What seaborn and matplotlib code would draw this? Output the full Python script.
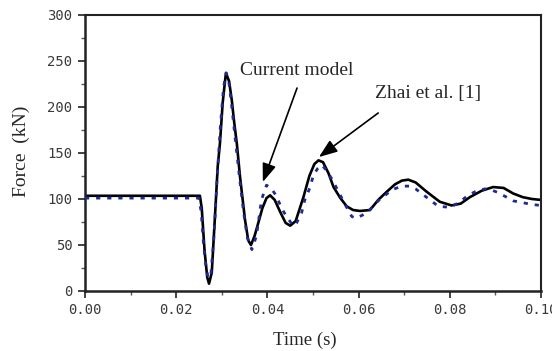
import numpy as np
import pandas as pd
import matplotlib
matplotlib.use("Agg")
import matplotlib.pyplot as plt
import seaborn as sns
from matplotlib.ticker import MultipleLocator

# Zhai et al. [1] (solid black)
zhai_t = [0.000, 0.0252, 0.0256, 0.0262, 0.0268, 0.0272, 0.0278, 0.0285, 0.0291, 0.0296,
          0.0302, 0.0309, 0.0316, 0.0322, 0.0327, 0.0333, 0.0340, 0.0351, 0.0358, 0.0364,
          0.0372, 0.0380, 0.0389, 0.0398, 0.0406, 0.0416, 0.0428, 0.0440, 0.0450, 0.0462,
          0.0479, 0.0492, 0.0503, 0.0512, 0.0522, 0.0534, 0.0545, 0.0560, 0.0574, 0.0588,
          0.0603, 0.0625, 0.0643, 0.0662, 0.0680, 0.0695, 0.0709, 0.0725, 0.0749, 0.0778,
          0.0804, 0.0824, 0.0844, 0.0870, 0.0895, 0.0918, 0.0939, 0.0960, 0.0980, 0.1000]
zhai_f = [103.5, 103.5, 90, 45, 15, 8, 20, 81, 135, 161,
          205, 237, 228, 207, 184, 160, 124, 77, 55, 50,
          60, 74, 90, 101, 104, 99, 86, 74, 71, 76,
          102, 125, 138, 142, 140, 128, 113, 101, 92, 88,
          87, 88, 99, 108, 116, 120, 121, 118, 108, 97,
          93, 95, 102, 109, 113, 112, 106, 102, 100, 99]

# Current model (dashed blue)
model_t = [0.000, 0.0250, 0.0255, 0.0260, 0.0265, 0.0270, 0.0276, 0.0283, 0.0290, 0.0297,
           0.0304, 0.0310, 0.0316, 0.0322, 0.0328, 0.0334, 0.0340, 0.0348, 0.0356, 0.0366,
           0.0376, 0.0387, 0.0398, 0.0408, 0.0420, 0.0431, 0.0442, 0.0452, 0.0461, 0.0475,
           0.0482, 0.0493, 0.0501, 0.0510, 0.0519, 0.0530, 0.0541, 0.0556, 0.0567, 0.0585,
           0.0595, 0.0618, 0.0643, 0.0673, 0.0695, 0.0711, 0.0725, 0.0746, 0.0775, 0.0800,
           0.0820, 0.0840, 0.0860, 0.0877, 0.0890, 0.0906, 0.0939, 0.0960, 0.0980, 0.1000]
model_f = [101, 101, 85, 50, 28, 14, 18, 60, 125, 180,
           222, 237, 225, 200, 172, 145, 118, 85, 58, 45,
           60, 99, 115, 112, 103, 90, 81, 74, 71, 85,
           99, 112, 126, 133, 137, 131, 122, 108, 97, 81,
           79, 85, 98, 110, 114, 114, 111, 103, 92, 91,
           96, 104, 109, 111, 110, 107, 98, 96, 94, 93]

x_ticks = [0.00, 0.02, 0.04, 0.06, 0.08, 0.10]
x_tick_labels = ["0.00", "0.02", "0.04", "0.06", "0.08", "0.10"]
y_ticks = [0, 50, 100, 150, 200, 250, 300]

sns.set_style("ticks")
plt.rcParams["font.family"] = ["Liberation Serif", "DejaVu Serif"]

fig = plt.figure(figsize=(5.52, 3.51), dpi=100)
ax = fig.add_axes([85 / 552, 60 / 351, 456 / 552, 276 / 351])

df_zhai = pd.DataFrame({"t": zhai_t, "F": zhai_f})
df_model = pd.DataFrame({"t": model_t, "F": model_f})

sns.lineplot(data=df_zhai, x="t", y="F", ax=ax, color="black", lw=1.9,
             estimator=None, sort=False, zorder=2)
sns.lineplot(data=df_model, x="t", y="F", ax=ax, color="#1f2a94", lw=2.0,
             estimator=None, sort=False, zorder=3, linestyle=(0, (1.5, 2.5)))

ax.set_xlim(0, 0.10)
ax.set_ylim(0, 300)
ax.set_xticks(x_ticks)
ax.set_xticklabels(x_tick_labels)
ax.set_yticks(y_ticks)
ax.xaxis.set_minor_locator(MultipleLocator(0.01))
ax.yaxis.set_minor_locator(MultipleLocator(25))

for lab in ax.get_xticklabels() + ax.get_yticklabels():
    lab.set_family(["DejaVu Sans Mono"])
    lab.set_fontsize(10)
    lab.set_color("#3a3a3a")

ax.tick_params(which="major", direction="out", length=5, width=1.3, color="#333333", pad=4)
ax.tick_params(which="minor", direction="out", length=3, width=1.0, color="#555555")
for side in ["left", "bottom", "top", "right"]:
    ax.spines[side].set_visible(True)
    ax.spines[side].set_color("#222222")
ax.spines["left"].set_linewidth(1.8)
ax.spines["bottom"].set_linewidth(1.8)
ax.spines["top"].set_linewidth(1.5)
ax.spines["right"].set_linewidth(1.5)

ax.set_xlabel("Time (s)", fontsize=13.5)
ax.set_ylabel("Force  (kN)", fontsize=14)
ax.xaxis.set_label_coords((305 - 85) / 456, (291 - 332) / 276)
ax.yaxis.set_label_coords((30 - 85) / 456, (291 - 151) / 276)

arrow = dict(arrowstyle="-|>,head_length=0.8,head_width=0.3", color="black",
             lw=1.2, shrinkA=0, shrinkB=0, mutation_scale=14)
ax.annotate("", xy=(0.0390, 118.5), xytext=(0.0465, 220.6), arrowprops=arrow)
ax.annotate("", xy=(0.0513, 145.6), xytext=(0.0643, 193.5), arrowprops=arrow)
ax.text(0.0465, 240, "Current model", fontsize=14, ha="center", va="center")
ax.text(0.0752, 215, "Zhai et al. [1]", fontsize=14, ha="center", va="center")

fig.savefig("out.png", dpi=100)
